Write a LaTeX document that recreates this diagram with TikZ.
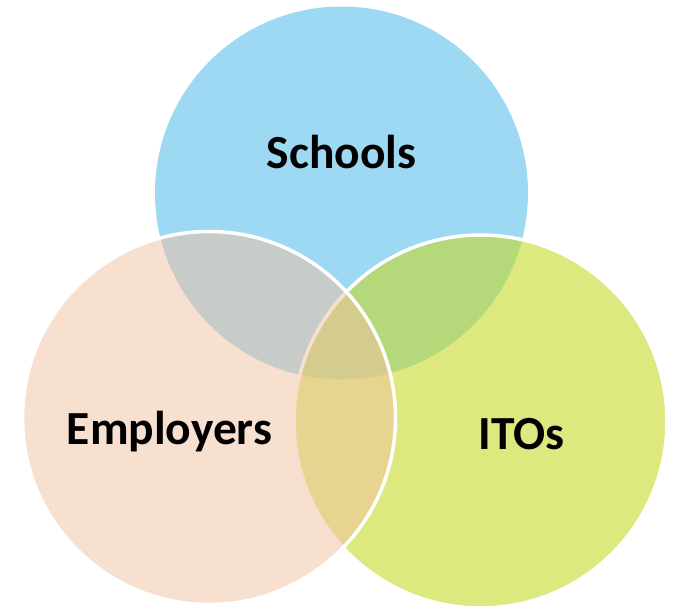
\documentclass[tikz,border=0pt]{standalone}
\usepackage{fontspec}
\setmainfont{Carlito}
\definecolor{schoolblue}{RGB}{157,217,242}
\definecolor{itogreen}{RGB}{198,217,42}
\definecolor{emppeach}{RGB}{241,193,161}
\begin{document}
\begin{tikzpicture}[x=1pt,y=-1pt,
  venn/.style={circle, inner sep=0pt, minimum size=373pt, draw=white, line width=3.5pt},
  lbl/.style={anchor=base, font=\fontsize{47.5}{54}\selectfont\bfseries, text=black}]
\useasboundingbox (0,0) rectangle (673,608);
\node[venn, fill=schoolblue, draw=none] (schools) at (341.5,193) {};
\node[venn, fill=itogreen, fill opacity=0.6, draw opacity=1] (itos) at (480.5,421.5) {};
\node[venn, fill=emppeach, fill opacity=0.5, draw opacity=1] (employers) at (209,418) {};
\node[lbl] (tschools) at (341.5,168) {Schools};
\node[lbl] (temployers) at (169.5,444) {Employers};
\node[lbl] (titos) at (521.5,449) {ITOs};
\end{tikzpicture}
\end{document}
